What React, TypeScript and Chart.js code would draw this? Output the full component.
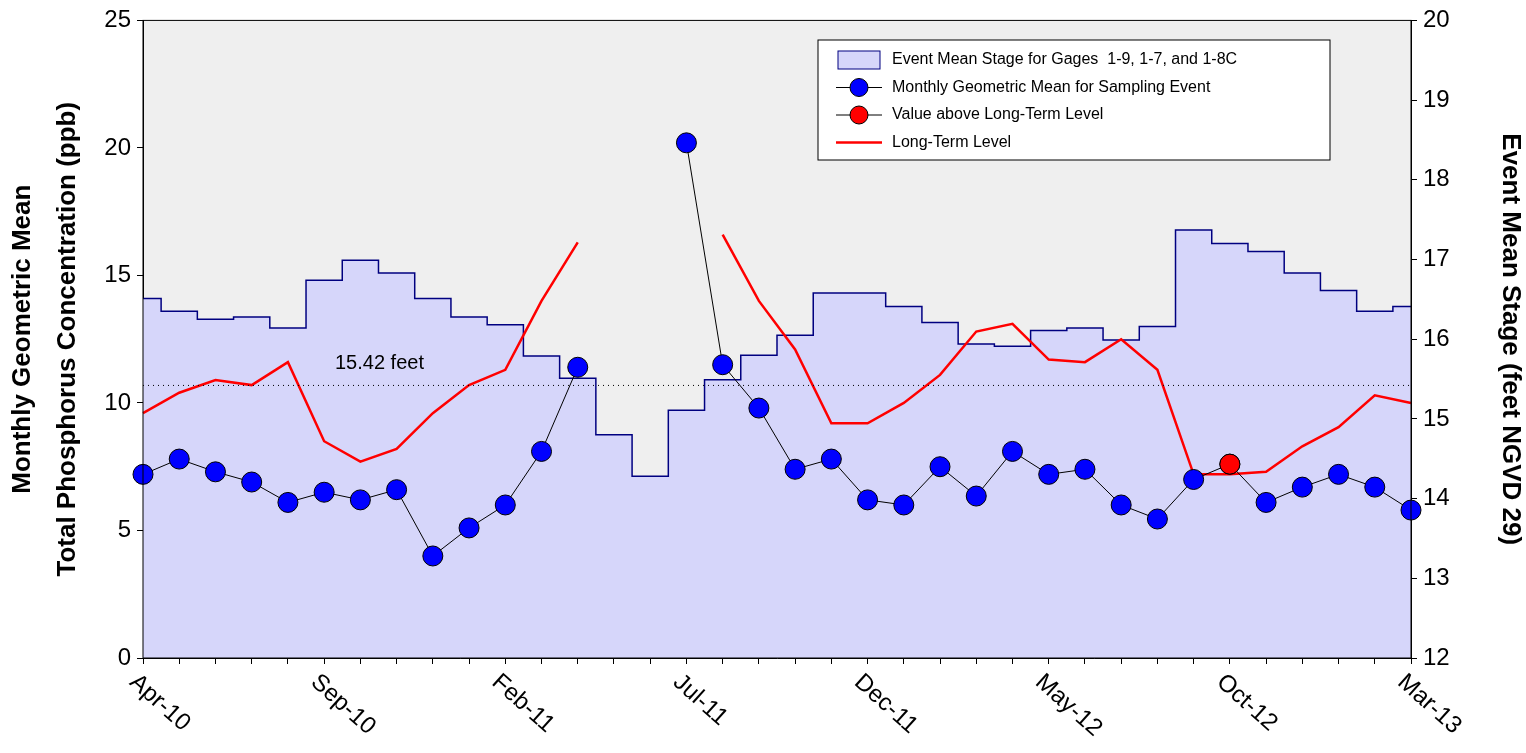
import { Chart, registerables } from "chart.js";
import React from "react";

Chart.register(...registerables);

const months = [
  "Apr-10", "May-10", "Jun-10", "Jul-10", "Aug-10", "Sep-10", "Oct-10", "Nov-10", "Dec-10",
  "Jan-11", "Feb-11", "Mar-11", "Apr-11", "May-11", "Jun-11", "Jul-11", "Aug-11", "Sep-11",
  "Oct-11", "Nov-11", "Dec-11", "Jan-12", "Feb-12", "Mar-12", "Apr-12", "May-12", "Jun-12",
  "Jul-12", "Aug-12", "Sep-12", "Oct-12", "Nov-12", "Dec-12", "Jan-13", "Feb-13", "Mar-13",
];

// event mean stage (feet NGVD 29)
const stage = [
  16.51, 16.35, 16.25, 16.28, 16.14, 16.74, 16.99, 16.83, 16.51,
  16.28, 16.18, 15.79, 15.51, 14.8, 14.28, 15.11, 15.49, 15.8,
  16.05, 16.58, 16.58, 16.41, 16.21, 15.94, 15.91, 16.11, 16.14,
  15.99, 16.16, 17.37, 17.2, 17.1, 16.83, 16.61, 16.35, 16.41,
];

// monthly geometric mean TP (ppb)
const tp = [
  7.2, 7.8, 7.3, 6.9, 6.1, 6.5, 6.2, 6.6, 4.0,
  5.1, 6.0, 8.1, 11.4, null, null, 20.2, 11.5, 9.8,
  7.4, 7.8, 6.2, 6.0, 7.5, 6.35, 8.1, 7.2, 7.4,
  6.0, 5.45, 7.0, 7.6, 6.1, 6.7, 7.2, 6.7, 5.8,
];

const aboveLevel = months.map((m) => (m === "Oct-12" ? 7.6 : null));

const longTerm = [
  9.6, 10.4, 10.9, 10.7, 11.6, 8.5, 7.7, 8.2, 9.6,
  10.7, 11.3, 14.0, 16.3, null, null, null, 16.6, 14.0,
  12.1, 9.2, 9.2, 10.0, 11.1, 12.8, 13.1, 11.7, 11.6,
  12.5, 11.3, 7.2, 7.2, 7.3, 8.3, 9.05, 10.3, 10.0,
];

const refStage = 15.42;
const FONT = "'Liberation Sans', Arial, sans-serif";

const extras = {
  id: "extras",
  beforeDraw(chart: any) {
    const { ctx, chartArea: a } = chart;
    ctx.save();
    ctx.fillStyle = "#efefef";
    ctx.fillRect(a.left, a.top, a.right - a.left, a.bottom - a.top);
    ctx.restore();
  },
  afterDatasetsDraw(chart: any) {
    const { ctx, chartArea: a } = chart;
    const y = chart.scales.y2.getPixelForValue(refStage);
    ctx.save();
    ctx.strokeStyle = "#000";
    ctx.lineWidth = 1;
    ctx.setLineDash([1, 4]);
    ctx.beginPath();
    ctx.moveTo(a.left, y);
    ctx.lineTo(a.right, y);
    ctx.stroke();
    ctx.setLineDash([]);
    ctx.fillStyle = "#000";
    ctx.font = `20px ${FONT}`;
    ctx.textBaseline = "bottom";
    ctx.fillText(refStage + " feet", 335, y - 12);

    // border of plot
    ctx.strokeRect(a.left, a.top, a.right - a.left, a.bottom - a.top);

    // x labels, rotated clockwise
    ctx.font = `24px ${FONT}`;
    ctx.textBaseline = "top";
    ctx.textAlign = "left";
    months.forEach((m, i) => {
      if (i % 5 !== 0) return;
      const x = chart.scales.x.getPixelForValue(i);
      ctx.save();
      ctx.translate(x - 2, a.bottom + 12);
      ctx.rotate(Math.PI / 4.3);
      ctx.fillText(m, 0, 0);
      ctx.restore();
    });

    // legend
    const lx = 818, ly = 40;
    ctx.fillStyle = "#fff";
    ctx.fillRect(lx, ly, 512, 120);
    ctx.strokeRect(lx, ly, 512, 120);
    ctx.font = `16px ${FONT}`;
    ctx.textBaseline = "middle";
    const rows = [
      "Event Mean Stage for Gages  1-9, 1-7, and 1-8C",
      "Monthly Geometric Mean for Sampling Event",
      "Value above Long-Term Level",
      "Long-Term Level",
    ];
    rows.forEach((t, i) => {
      const cy = ly + 20 + i * 27.5;
      if (i === 0) {
        ctx.fillStyle = "#d6d6fa";
        ctx.fillRect(838, cy - 9, 42, 18);
        ctx.strokeStyle = "#000080";
        ctx.strokeRect(838, cy - 9, 42, 18);
      } else if (i < 3) {
        ctx.strokeStyle = "#000";
        ctx.beginPath();
        ctx.moveTo(836, cy);
        ctx.lineTo(882, cy);
        ctx.stroke();
        ctx.fillStyle = i === 1 ? "#0000ff" : "#ff0000";
        ctx.beginPath();
        ctx.arc(859, cy, 9, 0, Math.PI * 2);
        ctx.fill();
        ctx.stroke();
      } else {
        ctx.strokeStyle = "#ff0000";
        ctx.lineWidth = 2.5;
        ctx.beginPath();
        ctx.moveTo(836, cy);
        ctx.lineTo(882, cy);
        ctx.stroke();
        ctx.lineWidth = 1;
      }
      ctx.fillStyle = "#000";
      ctx.fillText(t, 892, cy);
    });
    ctx.restore();
  },
};

export default function App() {
  const ref = React.useRef<HTMLCanvasElement>(null);

  React.useEffect(() => {
    document.body.style.margin = "0";
    let chart: Chart | undefined;
    if (ref.current) {
      chart = new Chart(ref.current, {
        type: "line",
        data: {
          labels: months,
          datasets: [
            {
              label: "Value above Long-Term Level",
              data: aboveLevel,
              yAxisID: "y",
              showLine: false,
              pointRadius: 10,
              pointBackgroundColor: "#ff0000",
              pointBorderColor: "#000",
              pointBorderWidth: 1,
              order: 0,
            },
            {
              label: "Monthly Geometric Mean",
              data: tp,
              yAxisID: "y",
              borderColor: "#000",
              borderWidth: 1,
              pointRadius: 10,
              pointBackgroundColor: "#0000ff",
              pointBorderColor: "#000",
              pointBorderWidth: 1,
              spanGaps: false,
              order: 1,
            },
            {
              label: "Long-Term Level",
              data: longTerm,
              yAxisID: "y",
              borderColor: "#ff0000",
              borderWidth: 2.5,
              pointRadius: 0,
              order: 2,
            },
            {
              label: "Event Mean Stage",
              data: stage,
              yAxisID: "y2",
              stepped: "middle",
              fill: "start",
              backgroundColor: "#d6d6fa",
              borderColor: "#000080",
              borderWidth: 1.5,
              pointRadius: 0,
              order: 3,
            },
          ],
        },
        options: {
          animation: false,
          responsive: false,
          layout: { padding: { top: 20 } },
          plugins: { legend: { display: false }, tooltip: { enabled: false } },
          scales: {
            x: {
              offset: false,
              afterFit: (s: any) => { s.height = 95; },
              grid: { drawOnChartArea: false, tickLength: 6, color: "#000" },
              border: { color: "#000" },
              ticks: { autoSkip: false, maxRotation: 0, display: true, callback: () => "" },
            },
            y: {
              position: "left",
              min: 0,
              max: 25,
              afterFit: (s: any) => { s.width = 143; },
              grid: { drawOnChartArea: false, tickLength: 6, color: "#000" },
              border: { color: "#000" },
              ticks: { stepSize: 5, color: "#000", padding: 6, font: { family: FONT, size: 24 } },
              title: {
                display: true,
                text: ["Monthly Geometric Mean", "Total Phosphorus Concentration (ppb)"],
                color: "#000",
                font: { family: FONT, size: 26, weight: "bold", lineHeight: 1.75 },
                padding: { top: 0, bottom: 10 },
              },
            },
            y2: {
              position: "right",
              min: 12,
              max: 20,
              afterFit: (s: any) => { s.width = 115; },
              grid: { drawOnChartArea: false, tickLength: 6, color: "#000" },
              border: { color: "#000" },
              ticks: { stepSize: 1, color: "#000", padding: 6, font: { family: FONT, size: 24 } },
              title: {
                display: true,
                text: "Event Mean Stage (feet NGVD 29)",
                color: "#000",
                font: { family: FONT, size: 26, weight: "bold" },
                padding: { top: 0, bottom: 8 },
              },
            },
          },
        },
        plugins: [extras],
      } as any);
    }
    return () => chart?.destroy();
  }, []);

  return (
    <div style={{ width: 1526, height: 753, background: "#fff" }}>
      <canvas ref={ref} width={1526} height={753} />
    </div>
  );
}
